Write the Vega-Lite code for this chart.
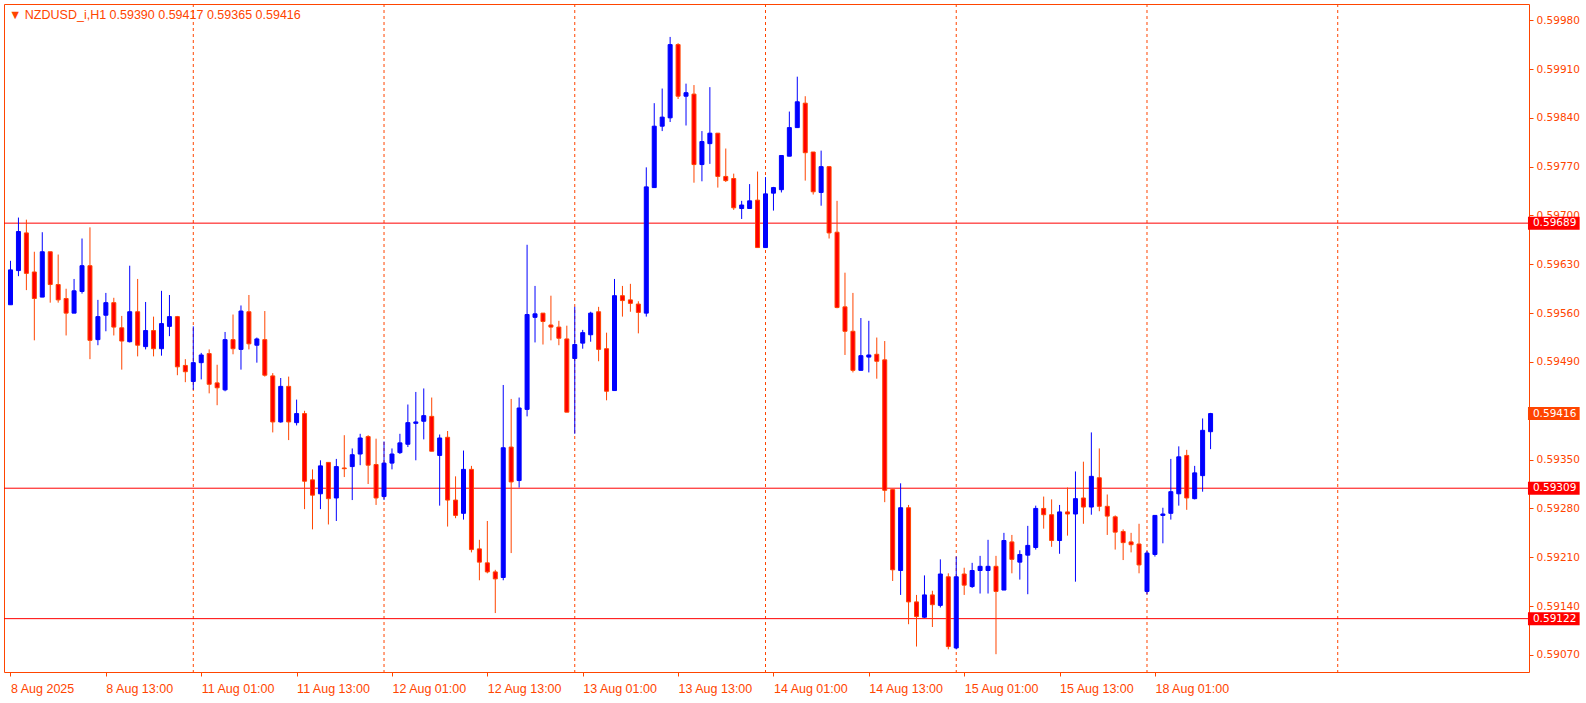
{
  "$schema": "https://vega.github.io/schema/vega-lite/v6.json",
  "width": 1525,
  "height": 668,
  "autosize": "none",
  "padding": {"left": 4, "top": 4, "right": 57, "bottom": 31},
  "background": "#FFFFFF",
  "config": {
    "view": {"stroke": "#FF4500", "strokeWidth": 1},
    "axis": {"domain": false, "grid": false, "title": null}
  },
  "title": {
    "text": "▼  NZDUSD_i,H1  0.59390 0.59417 0.59365 0.59416",
    "anchor": "start",
    "frame": "group",
    "orient": "top",
    "offset": -18,
    "dx": 5,
    "font": "Liberation Sans",
    "fontSize": 12.5,
    "fontWeight": "normal",
    "color": "#FF4500"
  },
  "datasets": {
    "bars": [
      {"i":0,"o":0.59572,"h":0.59635,"l":0.59572,"c":0.59622},
      {"i":1,"o":0.59621,"h":0.59697,"l":0.59613,"c":0.59677},
      {"i":2,"o":0.59675,"h":0.59694,"l":0.59593,"c":0.59617},
      {"i":3,"o":0.59619,"h":0.59648,"l":0.59521,"c":0.59581},
      {"i":4,"o":0.59583,"h":0.59676,"l":0.59583,"c":0.59648},
      {"i":5,"o":0.59648,"h":0.59648,"l":0.59575,"c":0.59601},
      {"i":6,"o":0.59601,"h":0.59644,"l":0.59575,"c":0.59579},
      {"i":7,"o":0.59581,"h":0.59595,"l":0.59528,"c":0.59560},
      {"i":8,"o":0.59560,"h":0.59609,"l":0.59560,"c":0.59592},
      {"i":9,"o":0.59591,"h":0.59667,"l":0.59588,"c":0.59628},
      {"i":10,"o":0.59628,"h":0.59683,"l":0.59494,"c":0.59521},
      {"i":11,"o":0.59522,"h":0.59579,"l":0.59514,"c":0.59555},
      {"i":12,"o":0.59557,"h":0.59589,"l":0.59534,"c":0.59575},
      {"i":13,"o":0.59575,"h":0.59582,"l":0.59528,"c":0.59540},
      {"i":14,"o":0.59539,"h":0.59556,"l":0.59479,"c":0.59520},
      {"i":15,"o":0.59519,"h":0.59628,"l":0.59518,"c":0.59562},
      {"i":16,"o":0.59562,"h":0.59609,"l":0.59498,"c":0.59514},
      {"i":17,"o":0.59512,"h":0.59576,"l":0.59508,"c":0.59535},
      {"i":18,"o":0.59535,"h":0.59555,"l":0.59498,"c":0.59509},
      {"i":19,"o":0.59509,"h":0.59592,"l":0.59499,"c":0.59545},
      {"i":20,"o":0.59541,"h":0.59586,"l":0.59527,"c":0.59555},
      {"i":21,"o":0.59555,"h":0.59556,"l":0.59471,"c":0.59483},
      {"i":22,"o":0.59485,"h":0.59494,"l":0.59461,"c":0.59476},
      {"i":23,"o":0.59462,"h":0.59541,"l":0.59450,"c":0.59489},
      {"i":24,"o":0.59489,"h":0.59503,"l":0.59465,"c":0.59500},
      {"i":25,"o":0.59502,"h":0.59508,"l":0.59445,"c":0.59458},
      {"i":26,"o":0.59460,"h":0.59486,"l":0.59428,"c":0.59453},
      {"i":27,"o":0.59450,"h":0.59533,"l":0.59448,"c":0.59522},
      {"i":28,"o":0.59522,"h":0.59558,"l":0.59501,"c":0.59509},
      {"i":29,"o":0.59508,"h":0.59571,"l":0.59479,"c":0.59563},
      {"i":30,"o":0.59562,"h":0.59586,"l":0.59508,"c":0.59516},
      {"i":31,"o":0.59514,"h":0.59525,"l":0.59489,"c":0.59523},
      {"i":32,"o":0.59522,"h":0.59563,"l":0.59469,"c":0.59471},
      {"i":33,"o":0.59470,"h":0.59474,"l":0.59389,"c":0.59404},
      {"i":34,"o":0.59404,"h":0.59467,"l":0.59403,"c":0.59455},
      {"i":35,"o":0.59455,"h":0.59469,"l":0.59378,"c":0.59404},
      {"i":36,"o":0.59403,"h":0.59436,"l":0.59399,"c":0.59416},
      {"i":37,"o":0.59416,"h":0.59420,"l":0.59279,"c":0.59319},
      {"i":38,"o":0.59321,"h":0.59336,"l":0.59250,"c":0.59299},
      {"i":39,"o":0.59301,"h":0.59349,"l":0.59279,"c":0.59341},
      {"i":40,"o":0.59346,"h":0.59346,"l":0.59257,"c":0.59294},
      {"i":41,"o":0.59295,"h":0.59351,"l":0.59262,"c":0.59340},
      {"i":42,"o":0.59338,"h":0.59385,"l":0.59325,"c":0.59337},
      {"i":43,"o":0.59340,"h":0.59366,"l":0.59292,"c":0.59357},
      {"i":44,"o":0.59358,"h":0.59387,"l":0.59342,"c":0.59381},
      {"i":45,"o":0.59383,"h":0.59385,"l":0.59315,"c":0.59342},
      {"i":46,"o":0.59343,"h":0.59380,"l":0.59285,"c":0.59295},
      {"i":47,"o":0.59297,"h":0.59376,"l":0.59292,"c":0.59345},
      {"i":48,"o":0.59345,"h":0.59366,"l":0.59336,"c":0.59358},
      {"i":49,"o":0.59360,"h":0.59387,"l":0.59358,"c":0.59374},
      {"i":50,"o":0.59372,"h":0.59429,"l":0.59368,"c":0.59403},
      {"i":51,"o":0.59402,"h":0.59447,"l":0.59349,"c":0.59404},
      {"i":52,"o":0.59405,"h":0.59452,"l":0.59379,"c":0.59413},
      {"i":53,"o":0.59412,"h":0.59439,"l":0.59362,"c":0.59362},
      {"i":54,"o":0.59356,"h":0.59386,"l":0.59284,"c":0.59381},
      {"i":55,"o":0.59382,"h":0.59391,"l":0.59254,"c":0.59292},
      {"i":56,"o":0.59292,"h":0.59326,"l":0.59266,"c":0.59270},
      {"i":57,"o":0.59273,"h":0.59363,"l":0.59264,"c":0.59336},
      {"i":58,"o":0.59336,"h":0.59341,"l":0.59217,"c":0.59221},
      {"i":59,"o":0.59222,"h":0.59235,"l":0.59177,"c":0.59203},
      {"i":60,"o":0.59202,"h":0.59262,"l":0.59187,"c":0.59189},
      {"i":61,"o":0.59189,"h":0.59192,"l":0.59130,"c":0.59179},
      {"i":62,"o":0.59181,"h":0.59457,"l":0.59177,"c":0.59367},
      {"i":63,"o":0.59368,"h":0.59437,"l":0.59216,"c":0.59318},
      {"i":64,"o":0.59320,"h":0.59439,"l":0.59310,"c":0.59424},
      {"i":65,"o":0.59422,"h":0.59658,"l":0.59412,"c":0.59558},
      {"i":66,"o":0.59554,"h":0.59599,"l":0.59518,"c":0.59559},
      {"i":67,"o":0.59560,"h":0.59560,"l":0.59515,"c":0.59548},
      {"i":68,"o":0.59543,"h":0.59585,"l":0.59521,"c":0.59540},
      {"i":69,"o":0.59540,"h":0.59549,"l":0.59514,"c":0.59524},
      {"i":70,"o":0.59523,"h":0.59542,"l":0.59418,"c":0.59418},
      {"i":71,"o":0.59495,"h":0.59569,"l":0.59387,"c":0.59515},
      {"i":72,"o":0.59517,"h":0.59536,"l":0.59509,"c":0.59532},
      {"i":73,"o":0.59529,"h":0.59562,"l":0.59519,"c":0.59560},
      {"i":74,"o":0.59562,"h":0.59569,"l":0.59491,"c":0.59508},
      {"i":75,"o":0.59509,"h":0.59532,"l":0.59435,"c":0.59448},
      {"i":76,"o":0.59449,"h":0.59609,"l":0.59449,"c":0.59585},
      {"i":77,"o":0.59585,"h":0.59599,"l":0.59555,"c":0.59578},
      {"i":78,"o":0.59579,"h":0.59602,"l":0.59562,"c":0.59574},
      {"i":79,"o":0.59573,"h":0.59577,"l":0.59531,"c":0.59561},
      {"i":80,"o":0.59560,"h":0.59769,"l":0.59555,"c":0.59741},
      {"i":81,"o":0.59740,"h":0.59861,"l":0.59740,"c":0.59828},
      {"i":82,"o":0.59828,"h":0.59882,"l":0.59821,"c":0.59841},
      {"i":83,"o":0.59840,"h":0.59956,"l":0.59834,"c":0.59945},
      {"i":84,"o":0.59945,"h":0.59947,"l":0.59867,"c":0.59871},
      {"i":85,"o":0.59871,"h":0.59889,"l":0.59829,"c":0.59876},
      {"i":86,"o":0.59874,"h":0.59887,"l":0.59747,"c":0.59773},
      {"i":87,"o":0.59773,"h":0.59821,"l":0.59749,"c":0.59806},
      {"i":88,"o":0.59803,"h":0.59884,"l":0.59774,"c":0.59818},
      {"i":89,"o":0.59818,"h":0.59818,"l":0.59740,"c":0.59756},
      {"i":90,"o":0.59756,"h":0.59796,"l":0.59748,"c":0.59750},
      {"i":91,"o":0.59753,"h":0.59760,"l":0.59708,"c":0.59711},
      {"i":92,"o":0.59710,"h":0.59721,"l":0.59695,"c":0.59715},
      {"i":93,"o":0.59710,"h":0.59745,"l":0.59710,"c":0.59721},
      {"i":94,"o":0.59722,"h":0.59763,"l":0.59654,"c":0.59654},
      {"i":95,"o":0.59654,"h":0.59755,"l":0.59654,"c":0.59731},
      {"i":96,"o":0.59732,"h":0.59741,"l":0.59707,"c":0.59740},
      {"i":97,"o":0.59737,"h":0.59786,"l":0.59733,"c":0.59786},
      {"i":98,"o":0.59785,"h":0.59849,"l":0.59785,"c":0.59826},
      {"i":99,"o":0.59826,"h":0.59899,"l":0.59826,"c":0.59863},
      {"i":100,"o":0.59861,"h":0.59871,"l":0.59750,"c":0.59790},
      {"i":101,"o":0.59791,"h":0.59791,"l":0.59730,"c":0.59734},
      {"i":102,"o":0.59733,"h":0.59793,"l":0.59714,"c":0.59770},
      {"i":103,"o":0.59770,"h":0.59771,"l":0.59667,"c":0.59675},
      {"i":104,"o":0.59676,"h":0.59721,"l":0.59567,"c":0.59568},
      {"i":105,"o":0.59569,"h":0.59618,"l":0.59500,"c":0.59534},
      {"i":106,"o":0.59534,"h":0.59589,"l":0.59475,"c":0.59478},
      {"i":107,"o":0.59478,"h":0.59553,"l":0.59478,"c":0.59499},
      {"i":108,"o":0.59497,"h":0.59549,"l":0.59475,"c":0.59500},
      {"i":109,"o":0.59501,"h":0.59525,"l":0.59466,"c":0.59491},
      {"i":110,"o":0.59493,"h":0.59520,"l":0.59289,"c":0.59306},
      {"i":111,"o":0.59307,"h":0.59308,"l":0.59176,"c":0.59192},
      {"i":112,"o":0.59191,"h":0.59316,"l":0.59156,"c":0.59281},
      {"i":113,"o":0.59281,"h":0.59285,"l":0.59114,"c":0.59146},
      {"i":114,"o":0.59146,"h":0.59156,"l":0.59082,"c":0.59125},
      {"i":115,"o":0.59124,"h":0.59184,"l":0.59123,"c":0.59156},
      {"i":116,"o":0.59156,"h":0.59162,"l":0.59110,"c":0.59142},
      {"i":117,"o":0.59141,"h":0.59207,"l":0.59138,"c":0.59186},
      {"i":118,"o":0.59182,"h":0.59187,"l":0.59078,"c":0.59082},
      {"i":119,"o":0.59080,"h":0.59211,"l":0.59078,"c":0.59182},
      {"i":120,"o":0.59186,"h":0.59195,"l":0.59156,"c":0.59170},
      {"i":121,"o":0.59168,"h":0.59202,"l":0.59166,"c":0.59191},
      {"i":122,"o":0.59191,"h":0.59212,"l":0.59158,"c":0.59197},
      {"i":123,"o":0.59191,"h":0.59235,"l":0.59158,"c":0.59197},
      {"i":124,"o":0.59197,"h":0.59212,"l":0.59071,"c":0.59161},
      {"i":125,"o":0.59163,"h":0.59245,"l":0.59163,"c":0.59234},
      {"i":126,"o":0.59232,"h":0.59242,"l":0.59187,"c":0.59207},
      {"i":127,"o":0.59203,"h":0.59220,"l":0.59178,"c":0.59214},
      {"i":128,"o":0.59213,"h":0.59255,"l":0.59157,"c":0.59227},
      {"i":129,"o":0.59224,"h":0.59284,"l":0.59221,"c":0.59280},
      {"i":130,"o":0.59280,"h":0.59297,"l":0.59251,"c":0.59271},
      {"i":131,"o":0.59271,"h":0.59293,"l":0.59225,"c":0.59234},
      {"i":132,"o":0.59234,"h":0.59285,"l":0.59215,"c":0.59275},
      {"i":133,"o":0.59275,"h":0.59310,"l":0.59241,"c":0.59272},
      {"i":134,"o":0.59272,"h":0.59333,"l":0.59175,"c":0.59294},
      {"i":135,"o":0.59295,"h":0.59347,"l":0.59258,"c":0.59282},
      {"i":136,"o":0.59282,"h":0.59389,"l":0.59271,"c":0.59326},
      {"i":137,"o":0.59324,"h":0.59366,"l":0.59276,"c":0.59283},
      {"i":138,"o":0.59283,"h":0.59300,"l":0.59242,"c":0.59269},
      {"i":139,"o":0.59268,"h":0.59270,"l":0.59221,"c":0.59246},
      {"i":140,"o":0.59247,"h":0.59250,"l":0.59206,"c":0.59231},
      {"i":141,"o":0.59232,"h":0.59245,"l":0.59217,"c":0.59228},
      {"i":142,"o":0.59229,"h":0.59258,"l":0.59187,"c":0.59199},
      {"i":143,"o":0.59161,"h":0.59219,"l":0.59157,"c":0.59216},
      {"i":144,"o":0.59214,"h":0.59270,"l":0.59211,"c":0.59270},
      {"i":145,"o":0.59270,"h":0.59281,"l":0.59230,"c":0.59272},
      {"i":146,"o":0.59273,"h":0.59351,"l":0.59264,"c":0.59304},
      {"i":147,"o":0.59301,"h":0.59369,"l":0.59284,"c":0.59354},
      {"i":148,"o":0.59356,"h":0.59364,"l":0.59278,"c":0.59295},
      {"i":149,"o":0.59294,"h":0.59341,"l":0.59293,"c":0.59331},
      {"i":150,"o":0.59327,"h":0.59409,"l":0.59304,"c":0.59392},
      {"i":151,"o":0.59390,"h":0.59417,"l":0.59365,"c":0.59416}
    ],
    "seps": [{"i":23},{"i":47},{"i":71},{"i":95},{"i":119},{"i":143},{"i":167}],
    "levels": [
      {"price":0.59689,"label":"0.59689","kind":"level"},
      {"price":0.59309,"label":"0.59309","kind":"level"},
      {"price":0.59122,"label":"0.59122","kind":"level"},
      {"price":0.59416,"label":"0.59416","kind":"bid"}
    ]
  },
  "layer": [
    {
      "data": {"name": "seps"},
      "mark": {"type": "rule", "color": "#FF4500", "strokeWidth": 1, "strokeDash": [3, 3]},
      "encoding": {
        "x": {
          "field": "i", "type": "quantitative",
          "scale": {"domain": [-0.1875, 190.4375], "nice": false, "zero": false},
          "axis": {
            "orient": "bottom",
            "values": [0, 12, 24, 36, 48, 60, 72, 84, 96, 108, 120, 132, 144],
            "labelExpr": "['8 Aug 2025','8 Aug 13:00','11 Aug 01:00','11 Aug 13:00','12 Aug 01:00','12 Aug 13:00','13 Aug 01:00','13 Aug 13:00','14 Aug 01:00','14 Aug 13:00','15 Aug 01:00','15 Aug 13:00','18 Aug 01:00'][round(datum.value / 12)]",
            "ticks": true, "tickSize": 4, "tickColor": "#FF4500", "tickWidth": 1,
            "labelColor": "#FF4500", "labelFont": "Liberation Sans", "labelFontSize": 12.5,
            "labelAlign": "left", "labelBaseline": "top", "labelPadding": 6, "labelDx": -2,
            "labelFlush": false, "labelOverlap": false
          }
        }
      }
    },
    {
      "data": {"name": "levels"},
      "transform": [{"filter": "datum.kind == 'level'"}],
      "mark": {"type": "rule", "color": "#FF0000", "strokeWidth": 1},
      "encoding": {
        "y": {
          "field": "price", "type": "quantitative",
          "scale": {"domain": [0.590455, 0.600032], "nice": false, "zero": false},
          "axis": {
            "orient": "right",
            "values": [0.5907, 0.5914, 0.5921, 0.5928, 0.5935, 0.5949, 0.5956, 0.5963, 0.597, 0.5977, 0.5984, 0.5991, 0.5998],
            "format": ".5f",
            "ticks": true, "tickSize": 4, "tickColor": "#FF4500", "tickWidth": 1,
            "labelColor": "#FF4500", "labelFont": "DejaVu Sans", "labelFontSize": 10.5,
            "labelAlign": "left", "labelBaseline": "middle", "labelPadding": 3,
            "labelFlush": false, "labelOverlap": false
          }
        }
      }
    },
    {
      "data": {"name": "bars"},
      "mark": {"type": "rule", "strokeWidth": 1, "clip": true},
      "encoding": {
        "x": {"field": "i", "type": "quantitative", "scale": {"domain": [-0.1875, 190.4375], "nice": false, "zero": false}},
        "y": {"field": "l", "type": "quantitative", "scale": {"domain": [0.590455, 0.600032], "nice": false, "zero": false}},
        "y2": {"field": "h"},
        "color": {"condition": {"test": "datum.c >= datum.o", "value": "#0000FF"}, "value": "#FF4500"}
      }
    },
    {
      "data": {"name": "bars"},
      "mark": {"type": "bar", "size": 4, "strokeWidth": 1, "clip": true},
      "encoding": {
        "x": {"field": "i", "type": "quantitative", "scale": {"domain": [-0.1875, 190.4375], "nice": false, "zero": false}},
        "y": {"field": "o", "type": "quantitative", "scale": {"domain": [0.590455, 0.600032], "nice": false, "zero": false}},
        "y2": {"field": "c"},
        "fill": {"condition": {"test": "datum.c >= datum.o", "value": "#0000FF"}, "value": "#FF0000"},
        "stroke": {"condition": {"test": "datum.c >= datum.o", "value": "#0000FF"}, "value": "#FF4500"}
      }
    },
    {
      "data": {"name": "levels"},
      "mark": {"type": "rule", "strokeWidth": 13, "strokeCap": "butt", "clip": false},
      "encoding": {
        "x": {"datum": 190.9375, "type": "quantitative", "scale": {"domain": [-0.1875, 190.4375], "nice": false, "zero": false}},
        "x2": {"datum": 197.4375},
        "y": {"field": "price", "type": "quantitative", "scale": {"domain": [0.590455, 0.600032], "nice": false, "zero": false}},
        "color": {"condition": {"test": "datum.kind == 'bid'", "value": "#FF4500"}, "value": "#FF0000"}
      }
    },
    {
      "data": {"name": "levels"},
      "mark": {"type": "text", "align": "left", "baseline": "middle", "font": "DejaVu Sans", "fontSize": 10.5, "color": "#FFFFFF", "clip": false},
      "encoding": {
        "x": {"datum": 191.5625, "type": "quantitative", "scale": {"domain": [-0.1875, 190.4375], "nice": false, "zero": false}},
        "y": {"field": "price", "type": "quantitative", "scale": {"domain": [0.590455, 0.600032], "nice": false, "zero": false}},
        "text": {"field": "label"}
      }
    }
  ]
}
